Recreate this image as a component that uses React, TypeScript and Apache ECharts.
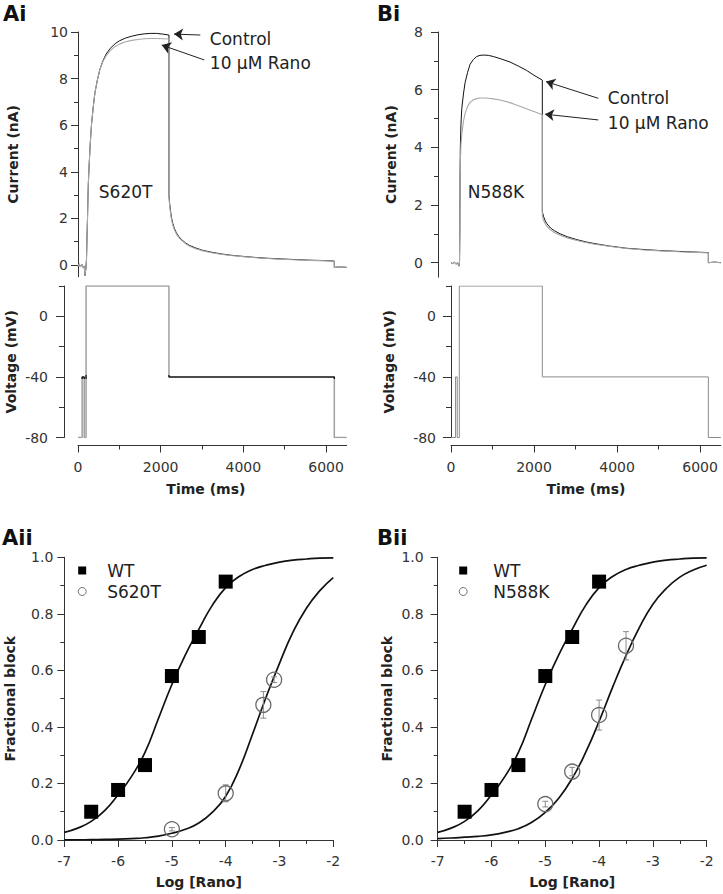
import React, { useEffect, useRef } from "react";
import * as echarts from "echarts";

const FONT = "DejaVu Sans";
const AXIS = "#333";

// ---- Ai: S620T currents (time ms, current nA)
const aiControl: number[][] = [
  [0, -0.05], [30, 0.05], [60, -0.08], [90, 0.04], [120, -0.1], [150, -0.05], [170, -0.45], [190, -0.15],
  [205, 0.2], [218, 1.2], [230, 2.0], [240, 2.8], [250, 3.5], [270, 4.3], [290, 5.0], [310, 5.6], [330, 6.1],
  [370, 6.8], [410, 7.4], [470, 7.95], [530, 8.4], [600, 8.75], [680, 9.05], [780, 9.3], [900, 9.5],
  [1000, 9.62], [1150, 9.74], [1300, 9.82], [1450, 9.88], [1600, 9.92], [1750, 9.94], [1900, 9.94],
  [2050, 9.91], [2200, 9.87], [2200, 3.0], [2220, 2.6], [2240, 2.3], [2260, 2.05], [2290, 1.8], [2330, 1.58],
  [2380, 1.38], [2440, 1.22], [2500, 1.1], [2600, 0.95], [2700, 0.84], [2850, 0.73], [3000, 0.64],
  [3200, 0.56], [3450, 0.48], [3700, 0.42], [4000, 0.37], [4400, 0.31], [4800, 0.27], [5200, 0.24],
  [5600, 0.21], [6000, 0.19], [6200, 0.17], [6200, -0.1], [6350, -0.08], [6500, -0.1],
];
const aiRano: number[][] = [
  [0, -0.05], [30, 0.05], [60, -0.08], [90, 0.04], [120, -0.1], [150, -0.05], [170, -0.45], [190, -0.15],
  [205, 0.2], [218, 1.2], [230, 2.0], [240, 2.8], [250, 3.5], [270, 4.3], [290, 5.0], [310, 5.6], [330, 6.1],
  [370, 6.8], [410, 7.4], [470, 7.95], [530, 8.4], [600, 8.72], [680, 8.98], [780, 9.2], [900, 9.38],
  [1000, 9.48], [1150, 9.58], [1300, 9.64], [1450, 9.68], [1600, 9.71], [1750, 9.72], [1900, 9.72],
  [2050, 9.71], [2200, 9.7], [2200, 2.9], [2220, 2.5], [2240, 2.2], [2260, 1.97], [2290, 1.73], [2330, 1.52],
  [2380, 1.33], [2440, 1.18], [2500, 1.07], [2600, 0.92], [2700, 0.81], [2850, 0.7], [3000, 0.62],
  [3200, 0.54], [3450, 0.46], [3700, 0.41], [4000, 0.36], [4400, 0.3], [4800, 0.26], [5200, 0.23],
  [5600, 0.2], [6000, 0.18], [6200, 0.16], [6200, -0.1], [6350, -0.08], [6500, -0.1],
];

// ---- Bi: N588K currents
const biControl: number[][] = [
  [0, 0], [40, -0.03], [80, 0.02], [120, -0.05], [160, 0.0], [190, -0.12], [205, 0], [212, 1.0], [218, 3.0],
  [225, 4.0], [240, 4.8], [260, 5.35], [300, 5.85], [340, 6.25], [400, 6.6], [460, 6.88], [540, 7.05],
  [620, 7.15], [700, 7.19], [800, 7.2], [900, 7.19], [1020, 7.15], [1200, 7.07], [1420, 6.96], [1620, 6.82],
  [1820, 6.67], [2000, 6.5], [2200, 6.33], [2200, 1.77], [2230, 1.6], [2270, 1.45], [2310, 1.35], [2400, 1.2],
  [2500, 1.1], [2630, 1.0], [2800, 0.9], [3030, 0.8], [3250, 0.72], [3430, 0.67], [3800, 0.58], [4230, 0.5],
  [4600, 0.46], [5040, 0.42], [5500, 0.39], [5840, 0.37], [6200, 0.35], [6200, 0.0], [6350, 0.02], [6500, 0.0],
];
const biRano: number[][] = [
  [0, 0], [40, -0.03], [80, 0.02], [120, -0.05], [160, 0.0], [190, -0.12], [205, 0], [212, 1.0], [218, 2.8],
  [225, 3.5], [240, 4.1], [260, 4.45], [300, 4.9], [340, 5.18], [400, 5.42], [460, 5.56], [540, 5.65],
  [620, 5.69], [700, 5.71], [800, 5.71], [900, 5.7], [1020, 5.68], [1180, 5.64], [1400, 5.56], [1580, 5.47],
  [1800, 5.35], [2000, 5.24], [2200, 5.13], [2200, 1.62], [2230, 1.47], [2270, 1.35], [2310, 1.26],
  [2400, 1.13], [2500, 1.04], [2630, 0.95], [2800, 0.86], [3030, 0.77], [3250, 0.7], [3430, 0.65],
  [3800, 0.57], [4230, 0.49], [4600, 0.45], [5040, 0.41], [5500, 0.38], [5840, 0.36], [6200, 0.34],
  [6200, 0], [6350, 0.02], [6500, 0],
];

// ---- Voltage protocols (time ms, mV)
const voltA: number[][] = [
  [0, -80], [100, -80], [100, -40], [150, -40], [150, -80], [195, -80], [195, 20], [2200, 20], [2200, -40],
  [6200, -40], [6200, -80], [6500, -80],
];
const voltB: number[][] = [
  [0, -80], [110, -80], [110, -40], [150, -40], [150, -80], [200, -80], [200, 20], [2200, 20], [2200, -40],
  [6200, -40], [6200, -80], [6500, -80],
];

// ---- Concentration-response
const wtLog = [-6.5, -6, -5.5, -5, -4.5, -4];
const wtBlock = [0.1, 0.177, 0.265, 0.58, 0.718, 0.914];
const s620tLog = [-5, -4, -3.3, -3.1];
const s620tBlock = [0.038, 0.165, 0.478, 0.567];
const s620tErr = [0.006, 0.03, 0.047, 0.01];
const n588kLog = [-5, -4.5, -4, -3.5];
const n588kBlock = [0.127, 0.242, 0.442, 0.687];
const n588kErr = [0.01, 0.015, 0.053, 0.05];

const fitLog = [-7, -6.75, -6.5, -6.25, -6, -5.75, -5.5, -5.25, -5, -4.75, -4.5, -4.25, -4, -3.75, -3.5, -3.25, -3, -2.75, -2.5, -2.25, -2];
const wtFit = [0.027, 0.042, 0.066, 0.104, 0.16, 0.225, 0.31, 0.43, 0.55, 0.655, 0.745, 0.83, 0.893, 0.932, 0.957, 0.972, 0.983, 0.99, 0.994, 0.997, 0.998];
const s620tFit = [0.0005, 0.0008, 0.0012, 0.002, 0.003, 0.005, 0.008, 0.014, 0.024, 0.038, 0.06, 0.098, 0.155, 0.25, 0.375, 0.505, 0.625, 0.735, 0.82, 0.882, 0.928];
const n588kFit = [0.005, 0.007, 0.01, 0.013, 0.018, 0.027, 0.04, 0.063, 0.098, 0.148, 0.218, 0.31, 0.42, 0.54, 0.652, 0.752, 0.834, 0.89, 0.93, 0.955, 0.972];

// ---- Tick values
const currentTicksA = [0, 2, 4, 6, 8, 10];
const currentMinorA = [1, 3, 5, 7, 9];
const currentTicksB = [0, 2, 4, 6, 8];
const currentMinorB = [1, 3, 5, 7];
const voltTicks = [-80, -40, 0];
const voltMinor = [-60, -20, 20];
const timeTicks = [0, 2000, 4000, 6000];
const timeMinor = [1000, 3000, 5000];

// ---- Annotations (data coordinates)
const aiArrows = [
  { tail: [2959, 9.87], tip: [2323, 9.91] },
  { tail: [3056, 8.8], tip: [2025, 9.44] },
];
const aiTexts = [
  { text: "Control", at: [3177, 9.69] },
  { text: "10 μM Rano", at: [3177, 8.66] },
  { text: "S620T", at: [491, 3.15] },
];
const biArrows = [
  { tail: [3549, 5.7], tip: [2289, 6.28] },
  { tail: [3549, 4.95], tip: [2265, 5.15] },
];
const biTexts = [
  { text: "Control", at: [3766, 5.7] },
  { text: "10 μM Rano", at: [3766, 4.83] },
  { text: "N588K", at: [393, 2.46] },
];

const zip = (xs: number[], ys: number[]) => xs.map((x, i) => [x, ys[i]]);

function yMajor(grid: number, min: number, max: number, ticks: number[], offset: number, margin: number, name: string, nameGap: number, len = 7) {
  return {
    type: "value", gridIndex: grid, min, max, position: "left", offset,
    axisLine: { show: true, onZero: false, lineStyle: { color: AXIS, width: 1 } },
    axisTick: { show: true, customValues: ticks, length: len, lineStyle: { color: AXIS } },
    axisLabel: { show: true, customValues: ticks, margin, color: AXIS, fontFamily: FONT, fontSize: 14, formatter: (v: number) => String(v) },
    splitLine: { show: false },
    name, nameLocation: "middle", nameGap,
    nameTextStyle: { fontFamily: FONT, fontSize: 14, fontWeight: "bold", color: "#222" },
  };
}
function yMinor(grid: number, min: number, max: number, ticks: number[], offset: number, len = 4) {
  return {
    type: "value", gridIndex: grid, min, max, position: "left", offset,
    axisLine: { show: false, onZero: false },
    axisTick: { show: true, customValues: ticks, length: len, lineStyle: { color: AXIS } },
    axisLabel: { show: false }, splitLine: { show: false },
  };
}
function timeMajor(grid: number, nameGap: number, padRight: number) {
  return {
    type: "value", gridIndex: grid, min: 0, max: 6500, position: "bottom", offset: 8,
    axisLine: { show: true, onZero: false, lineStyle: { color: AXIS } },
    axisTick: { show: true, customValues: timeTicks, length: 7, lineStyle: { color: AXIS } },
    axisLabel: { show: true, customValues: timeTicks, margin: 14, color: AXIS, fontFamily: FONT, fontSize: 14, formatter: (v: number) => String(v) },
    splitLine: { show: false },
    name: "Time (ms)", nameLocation: "middle", nameGap,
    nameTextStyle: { fontFamily: FONT, fontSize: 14, fontWeight: "bold", color: "#222", padding: [0, padRight, 0, 0] },
  };
}
function timeMinorAxis(grid: number) {
  return {
    type: "value", gridIndex: grid, min: 0, max: 6500, position: "bottom", offset: 8,
    axisLine: { show: false, onZero: false },
    axisTick: { show: true, customValues: timeMinor, length: 4, lineStyle: { color: AXIS } },
    axisLabel: { show: false }, splitLine: { show: false },
  };
}
function hiddenTime(grid: number) {
  return { type: "value", gridIndex: grid, min: 0, max: 6500, show: false, axisLine: { onZero: false }, splitLine: { show: false } };
}
function logAxis(grid: number) {
  return {
    type: "value", gridIndex: grid, min: -7, max: -2, interval: 1, position: "bottom",
    axisLine: { show: true, onZero: false, lineStyle: { color: AXIS } },
    axisTick: { show: true, length: 7, lineStyle: { color: AXIS } },
    minorTick: { show: true, splitNumber: 2, length: 4, lineStyle: { color: AXIS } },
    axisLabel: { margin: 14, color: AXIS, fontFamily: FONT, fontSize: 14 },
    splitLine: { show: false },
    name: "Log [Rano]", nameLocation: "middle", nameGap: 35,
    nameTextStyle: { fontFamily: FONT, fontSize: 14, fontWeight: "bold", color: "#222" },
  };
}
function blockAxis(grid: number, margin: number, nameGap: number) {
  return {
    type: "value", gridIndex: grid, min: 0, max: 1, interval: 0.2, position: "left",
    axisLine: { show: true, onZero: false, lineStyle: { color: AXIS } },
    axisTick: { show: true, length: 7, lineStyle: { color: AXIS } },
    minorTick: { show: true, splitNumber: 2, length: 4, lineStyle: { color: AXIS } },
    axisLabel: { margin, color: AXIS, fontFamily: FONT, fontSize: 14, formatter: (v: number) => v.toFixed(1) },
    splitLine: { show: false },
    name: "Fractional block", nameLocation: "middle", nameGap,
    nameTextStyle: { fontFamily: FONT, fontSize: 14, fontWeight: "bold", color: "#222" },
  };
}

function trace(name: string, data: number[][], xi: number, yi: number, color: string | null, width: number, extra: any = {}) {
  const ls: any = { width };
  if (color) ls.color = color;
  return {
    type: "line", name, data, xAxisIndex: xi, yAxisIndex: yi, showSymbol: false, symbol: "none",
    lineStyle: ls, ...(color ? { itemStyle: { color } } : {}), silent: true, z: 3, ...extra,
  };
}
function annotations(arrows: any[], texts: any[]) {
  return {
    markLine: {
      silent: true, symbol: ["none", "arrow"], symbolSize: 9,
      lineStyle: { color: "#222", width: 1, type: "solid" },
      label: { show: false },
      data: arrows.map((a) => [{ coord: a.tail }, { coord: a.tip }]),
    },
    markPoint: {
      silent: true, symbol: "circle", symbolSize: 1, itemStyle: { color: "rgba(0,0,0,0)" },
      label: { show: true, position: "right", distance: 0, formatter: "{b}", fontFamily: FONT, fontSize: 17, color: "#222" },
      data: texts.map((t) => ({ name: t.text, coord: t.at })),
    },
  };
}
function errorBars(name: string, xs: number[], ys: number[], es: number[], xi: number, yi: number) {
  return {
    type: "custom", name, xAxisIndex: xi, yAxisIndex: yi, silent: true, z: 4,
    data: xs.map((x, i) => [x, ys[i], es[i]]),
    encode: { x: 0, y: 1 },
    renderItem: (params: any, api: any) => {
      const x = api.value(0), y = api.value(1), e = api.value(2);
      const t = api.coord([x, y + e]);
      const b = api.coord([x, y - e]);
      const st = { stroke: "#8a8a8a", lineWidth: 1 };
      return {
        type: "group",
        children: [
          { type: "line", shape: { x1: t[0], y1: t[1], x2: b[0], y2: b[1] }, style: st },
          { type: "line", shape: { x1: t[0] - 3, y1: t[1], x2: t[0] + 3, y2: t[1] }, style: st },
          { type: "line", shape: { x1: b[0] - 3, y1: b[1], x2: b[0] + 3, y2: b[1] }, style: st },
        ],
      };
    },
  };
}
function wtScatter(xi: number, yi: number) {
  return {
    type: "scatter", name: "WT", xAxisIndex: xi, yAxisIndex: yi, data: zip(wtLog, wtBlock),
    symbol: "rect", symbolSize: 14, itemStyle: { color: "#000", opacity: 1 }, silent: true, z: 5,
  };
}
function mutScatter(name: string, xs: number[], ys: number[], xi: number, yi: number) {
  return {
    type: "scatter", name, xAxisIndex: xi, yAxisIndex: yi, data: zip(xs, ys),
    symbol: "circle", symbolSize: 15,
    itemStyle: { color: "rgba(255,255,255,0)", borderColor: "#6a6a6a", borderWidth: 1.3, opacity: 1 },
    silent: true, z: 5,
  };
}
function fitLine(name: string, ys: number[], xi: number, yi: number) {
  return {
    type: "line", name, xAxisIndex: xi, yAxisIndex: yi, data: zip(fitLog, ys), smooth: true,
    showSymbol: false, symbol: "none", lineStyle: { color: "#111", width: 1.7 }, silent: true, z: 3,
  };
}
function legendFor(left: number, mutant: string, pad: number) {
  return {
    left, top: 562, orient: "vertical", itemWidth: 8, itemHeight: 8, itemGap: 4, padding: 0,
    selectedMode: false,
    data: [
      { name: "WT", icon: "rect", itemStyle: { color: "#000", opacity: 1 } },
      { name: mutant, icon: "circle", itemStyle: { color: "rgba(255,255,255,0)", borderColor: "#707070", borderWidth: 1, opacity: 1 } },
    ],
    textStyle: { fontFamily: FONT, fontSize: 17, color: "#222", padding: [0, 0, 0, pad] },
  };
}
function panelLabel(text: string, x: number, y: number) {
  return {
    type: "text", x, y, silent: true,
    style: { text, fill: "#111", font: `bold 21px "${FONT}"`, align: "left", verticalAlign: "middle" },
  };
}

export default function App() {
  const ref = useRef<HTMLDivElement>(null);
  useEffect(() => {
    if (!ref.current) return;
    const chart = echarts.init(ref.current, null, { renderer: "svg" });
    const option: any = {
      animation: false,
      backgroundColor: "#fff",
      textStyle: { fontFamily: FONT },
      grid: [
        { left: 78, top: 32, width: 268.7, height: 244.7 },
        { left: 78, top: 286, width: 268.7, height: 151.5 },
        { left: 451, top: 32, width: 269.8, height: 245.1 },
        { left: 451, top: 286, width: 269.8, height: 151.5 },
        { left: 64.3, top: 557.3, width: 269, height: 282.7 },
        { left: 437.7, top: 557.3, width: 269, height: 282.7 },
      ],
      xAxis: [
        hiddenTime(0),
        timeMajor(1, 36, 13),
        timeMinorAxis(1),
        hiddenTime(2),
        timeMajor(3, 36, 0),
        timeMinorAxis(3),
        logAxis(4),
        logAxis(5),
      ],
      yAxis: [
        yMajor(0, -0.5, 10, currentTicksA, 0, 10, "Current (nA)", 58),
        yMinor(0, -0.5, 10, currentMinorA, 0),
        yMajor(1, -80, 20, voltTicks, 14, 16, "Voltage (mV)", 46, 8),
        yMinor(1, -80, 20, voltMinor, 14, 5),
        yMajor(2, -0.5, 8, currentTicksB, 13, 15, "Current (nA)", 40),
        yMinor(2, -0.5, 8, currentMinorB, 13),
        yMajor(3, -80, 20, voltTicks, 0, 15, "Voltage (mV)", 55, 8),
        yMinor(3, -80, 20, voltMinor, 0, 5),
        blockAxis(4, 11, 47),
        blockAxis(5, 14, 44),
      ],
      visualMap: [
        {
          type: "piecewise", show: false, seriesIndex: 2, dimension: 1,
          pieces: [
            { lt: -41.5, color: "#a0a0a0" },
            { gte: -41.5, lte: -38.5, color: "#111" },
            { gt: -38.5, color: "#a0a0a0" },
          ],
        },
      ],
      legend: [legendFor(77.7, "S620T", 16), legendFor(458.7, "N588K", 21)],
      series: [
        trace("Control", aiControl, 0, 0, "#111", 1),
        trace("10 μM Rano", aiRano, 0, 0, "#a8a8a8", 1.1, annotations(aiArrows, aiTexts)),
        trace("Voltage A", voltA, 1, 2, null, 1.5),
        trace("Control B", biControl, 3, 4, "#111", 1),
        trace("10 μM Rano B", biRano, 3, 4, "#a8a8a8", 1.1, annotations(biArrows, biTexts)),
        trace("Voltage B", voltB, 4, 6, "#8a8a8a", 1),
        fitLine("WT fit A", wtFit, 6, 8),
        fitLine("S620T fit", s620tFit, 6, 8),
        wtScatter(6, 8),
        errorBars("S620T err", s620tLog, s620tBlock, s620tErr, 6, 8),
        mutScatter("S620T", s620tLog, s620tBlock, 6, 8),
        fitLine("WT fit B", wtFit, 7, 9),
        fitLine("N588K fit", n588kFit, 7, 9),
        wtScatter(7, 9),
        errorBars("N588K err", n588kLog, n588kBlock, n588kErr, 7, 9),
        mutScatter("N588K", n588kLog, n588kBlock, 7, 9),
      ],
      graphic: [
        panelLabel("Ai", 3, 14),
        panelLabel("Bi", 377, 14),
        panelLabel("Aii", 2, 538),
        panelLabel("Bii", 377, 538),
      ],
    };
    chart.setOption(option);
    return () => chart.dispose();
  }, []);
  return (
    <div
      ref={ref}
      style={{ position: "absolute", left: 0, top: 0, width: 723, height: 894, background: "#fff" }}
    />
  );
}
